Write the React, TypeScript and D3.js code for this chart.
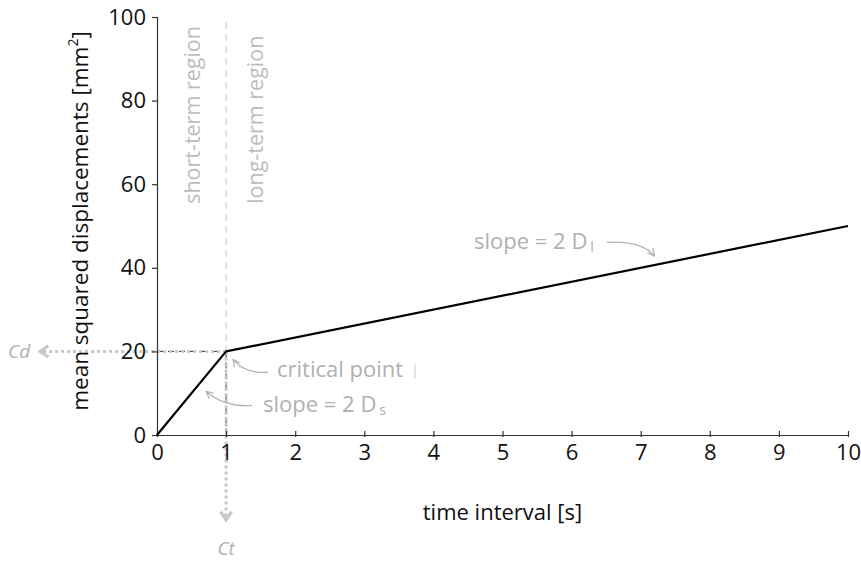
import React, { useEffect, useRef } from 'react';
import * as d3 from 'd3';

// piecewise MSD curve: short-term then long-term regime
const timeValues = [0, 1, 10];
const msdValues = [0, 20, 50];
const xTicks = [0, 1, 2, 3, 4, 5, 6, 7, 8, 9, 10];
const yTicks = [0, 20, 40, 60, 80, 100];
const criticalTime = 1;
const criticalMsd = 20;

const FONT = '"Open Sans", sans-serif';
const GREY = '#b0b0b0';

const App: React.FC = () => {
  const ref = useRef<SVGSVGElement>(null);

  useEffect(() => {
    if (!ref.current) return;
    const svg = d3.select(ref.current);
    svg.selectAll('*').remove();

    const margin = { top: 17, right: 13, bottom: 126, left: 157 };
    const width = 861 - margin.left - margin.right;
    const height = 561 - margin.top - margin.bottom;

    const x = d3.scaleLinear().domain([0, 10]).range([0, width]);
    const y = d3.scaleLinear().domain([0, 100]).range([height, 0]);

    const defs = svg.append('defs');
    defs
      .append('marker')
      .attr('id', 'thin-head')
      .attr('viewBox', '0 0 10 10')
      .attr('refX', 9)
      .attr('refY', 5)
      .attr('markerWidth', 9)
      .attr('markerHeight', 9)
      .attr('markerUnits', 'userSpaceOnUse')
      .attr('orient', 'auto')
      .append('path')
      .attr('d', 'M1,1 L9,5 L1,9')
      .attr('fill', 'none')
      .attr('stroke', GREY)
      .attr('stroke-width', 1.3);
    defs
      .append('marker')
      .attr('id', 'thick-head')
      .attr('viewBox', '0 0 10 10')
      .attr('refX', 8)
      .attr('refY', 5)
      .attr('markerWidth', 14)
      .attr('markerHeight', 14)
      .attr('markerUnits', 'userSpaceOnUse')
      .attr('orient', 'auto')
      .append('path')
      .attr('d', 'M2,1 L8,5 L2,9')
      .attr('fill', 'none')
      .attr('stroke', '#c8c8c8')
      .attr('stroke-width', 2.2);

    const g = svg
      .append('g')
      .attr('transform', `translate(${margin.left},${margin.top})`);

    // region divider at the critical time
    g.append('line')
      .attr('x1', x(criticalTime))
      .attr('x2', x(criticalTime))
      .attr('y1', 5)
      .attr('y2', y(criticalMsd))
      .attr('stroke', '#c4c4c4')
      .attr('stroke-width', 1)
      .attr('stroke-dasharray', '7,5');

    // dark dashes to the axes
    g.append('line')
      .attr('x1', x(criticalTime))
      .attr('x2', x(criticalTime))
      .attr('y1', y(criticalMsd))
      .attr('y2', y(0))
      .attr('stroke', '#333')
      .attr('stroke-width', 1)
      .attr('stroke-dasharray', '6,5');
    g.append('line')
      .attr('x1', 0)
      .attr('x2', x(criticalTime))
      .attr('y1', y(criticalMsd))
      .attr('y2', y(criticalMsd))
      .attr('stroke', '#333')
      .attr('stroke-width', 1)
      .attr('stroke-dasharray', '6,5');

    // thick dotted projections Cd / Ct
    g.append('line')
      .attr('x1', x(criticalTime))
      .attr('x2', -117)
      .attr('y1', y(criticalMsd))
      .attr('y2', y(criticalMsd))
      .attr('stroke', '#c8c8c8')
      .attr('stroke-width', 3)
      .attr('stroke-dasharray', '3,3')
      .attr('marker-end', 'url(#thick-head)');
    g.append('line')
      .attr('x1', x(criticalTime))
      .attr('x2', x(criticalTime))
      .attr('y1', y(criticalMsd))
      .attr('y2', y(0) + 85)
      .attr('stroke', '#c8c8c8')
      .attr('stroke-width', 3)
      .attr('stroke-dasharray', '3,3')
      .attr('marker-end', 'url(#thick-head)');

    g.append('text')
      .attr('x', -149)
      .attr('y', y(criticalMsd) + 7)
      .attr('font-family', FONT)
      .attr('font-style', 'italic')
      .attr('font-size', 19)
      .attr('fill', GREY)
      .text('Cd');
    g.append('text')
      .attr('x', x(criticalTime))
      .attr('y', y(0) + 120)
      .attr('text-anchor', 'middle')
      .attr('font-family', FONT)
      .attr('font-style', 'italic')
      .attr('font-size', 19)
      .attr('fill', GREY)
      .text('Ct');

    // axes
    const xAxis = g
      .append('g')
      .attr('transform', `translate(0,${height})`)
      .call(
        d3
          .axisBottom(x)
          .tickValues(xTicks)
          .tickSizeInner(-4)
          .tickSizeOuter(0)
          .tickPadding(9)
          .tickFormat(d3.format('d'))
      );
    xAxis.selectAll('.tick line').attr('y2', -4).attr('y1', 2);
    xAxis.selectAll('.tick text').attr('dy', '0.71em');

    const yAxis = g.append('g').call(
      d3
        .axisLeft(y)
        .tickValues(yTicks)
        .tickSizeInner(5)
        .tickSizeOuter(0)
        .tickPadding(6)
    );
    yAxis.selectAll('.tick line').attr('x2', -5).attr('x1', 1);

    [xAxis, yAxis].forEach((a) => {
      a.select('.domain').attr('stroke', '#333').attr('stroke-width', 1.2);
      a.selectAll('.tick line').attr('stroke', '#333').attr('stroke-width', 1.2);
      a.selectAll('.tick text')
        .attr('font-family', FONT)
        .attr('font-size', 22)
        .attr('fill', '#111');
    });

    // msd curve
    const line = d3
      .line<number>()
      .x((d, i) => x(timeValues[i]))
      .y((d) => y(d));
    g.append('path')
      .datum(msdValues)
      .attr('d', line)
      .attr('fill', 'none')
      .attr('stroke', '#000')
      .attr('stroke-width', 2.2)
      .attr('stroke-linejoin', 'round');

    // region labels
    const regionLabel = (px: number, label: string) =>
      g
        .append('text')
        .attr('transform', `translate(${px},${y(55.3)}) rotate(-90)`)
        .attr('font-family', FONT)
        .attr('font-size', 21.5)
        .attr('fill', '#bdbdbd')
        .text(label);
    regionLabel(x(criticalTime) - 26, 'short-term region');
    regionLabel(x(criticalTime) + 37, 'long-term region');

    // annotation labels
    const grey = (px: number, py: number) =>
      g
        .append('text')
        .attr('x', px)
        .attr('y', py)
        .attr('font-family', FONT)
        .attr('font-size', 22)
        .attr('fill', GREY);

    grey(120, y(criticalMsd) + 26).text('critical point');
    g.append('rect')
      .attr('x', 257)
      .attr('y', y(criticalMsd) + 13)
      .attr('width', 2)
      .attr('height', 14)
      .attr('fill', '#e2e2e2');

    const ds = grey(106, y(criticalMsd) + 61);
    ds.append('tspan').text('slope = 2 D');
    ds.append('tspan').attr('font-size', 14).attr('dx', 3).attr('dy', 3).text('s');

    const dl = grey(317, y(44.5));
    dl.append('tspan').text('slope = 2 D');
    dl.append('tspan').attr('font-size', 14).attr('dx', 3).attr('dy', 3).text('l');

    // curved pointer arrows
    const arrow = (d: string) =>
      g
        .append('path')
        .attr('d', d)
        .attr('fill', 'none')
        .attr('stroke', GREY)
        .attr('stroke-width', 1.3)
        .attr('marker-end', 'url(#thin-head)');
    const p0 = { x: x(criticalTime), y: y(criticalMsd) };
    arrow(`M${p0.x + 42},${p0.y + 21} Q${p0.x + 17},${p0.y + 22} ${p0.x + 7},${p0.y + 8}`);
    arrow(`M${p0.x + 26},${p0.y + 54} Q${p0.x - 1},${p0.y + 56} ${p0.x - 20},${p0.y + 40}`);
    arrow(`M450,${y(46.1)} Q485,${y(46.6)} ${x(7.2)},${y(42.8)}`);

    // axis titles
    g.append('text')
      .attr('x', x(5.0))
      .attr('y', height + 85)
      .attr('text-anchor', 'middle')
      .attr('font-family', FONT)
      .attr('font-size', 22)
      .attr('fill', '#111')
      .text('time interval [s]');

    const yt = g
      .append('text')
      .attr('transform', `translate(-69,${y(51.2)}) rotate(-90)`)
      .attr('text-anchor', 'middle')
      .attr('font-family', FONT)
      .attr('font-size', 22.5)
      .attr('fill', '#111');
    yt.append('tspan').text('mean squared displacements [mm');
    yt.append('tspan').attr('font-size', 14).attr('dy', -10).text('2');
    yt.append('tspan').attr('dy', 10).text(']');
  }, []);

  return (
    <svg
      ref={ref}
      width={861}
      height={561}
      style={{ position: 'absolute', left: 0, top: 0, background: '#fff' }}
    />
  );
};

export default App;
